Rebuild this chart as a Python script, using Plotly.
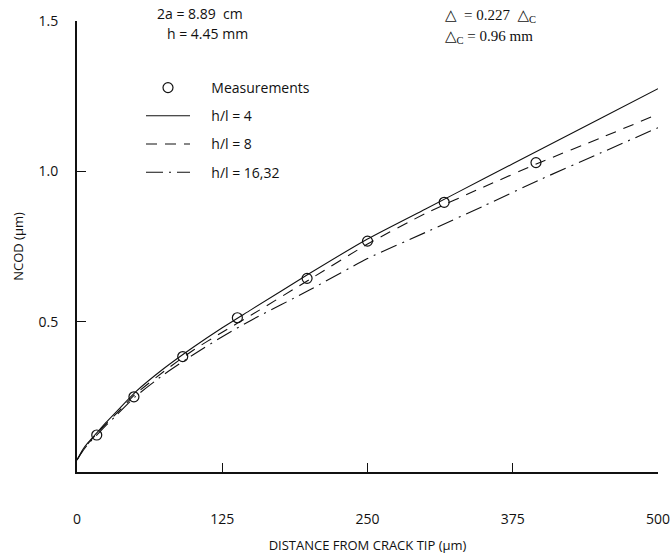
import plotly.graph_objects as go

# ---- data ----
meas_x = [17, 49, 91, 138, 198, 250, 316, 395]
meas_y = [0.123, 0.25, 0.384, 0.513, 0.644, 0.768, 0.897, 1.029]

curve_x = [0, 5, 10, 17, 25, 35, 50, 75, 100, 125, 150, 200, 250, 300, 350, 400, 450, 500]
h4 = [0.04, 0.075, 0.10, 0.13, 0.165, 0.205, 0.265, 0.345, 0.415, 0.48, 0.54, 0.66, 0.775, 0.875, 0.975, 1.075, 1.175, 1.275]
h8 = [0.04, 0.072, 0.097, 0.127, 0.16, 0.198, 0.258, 0.335, 0.405, 0.465, 0.522, 0.64, 0.758, 0.86, 0.948, 1.032, 1.11, 1.19]
h16 = [0.04, 0.07, 0.095, 0.123, 0.155, 0.193, 0.25, 0.325, 0.39, 0.45, 0.505, 0.605, 0.71, 0.797, 0.885, 0.975, 1.06, 1.145]

series_names = ["Measurements", "h/l = 4", "h/l = 8", "h/l = 16,32"]
x_ticks = [0, 125, 250, 375, 500]
y_ticks = [0.5, 1.0, 1.5]
y_tick_labels = ["0.5", "1.0", "1.5"]

# ---- layout geometry (pixels) ----
W, H = 672, 560
L, R, T, B = 77, 14, 21, 88
PW, PH = W - L - R, H - T - B


def px(xp):
    return (xp - L) / PW


def py(yp):
    return (H - B - yp) / PH


SANS = "Open Sans, Lato, DejaVu Sans, sans-serif"
SERIF = "Liberation Serif, DejaVu Serif, serif"
INK = "#111111"
PAD = "\u2002\u2002\u2009"

fig = go.Figure()

fig.add_trace(go.Scatter(
    x=meas_x, y=meas_y, mode="markers", name=PAD + series_names[0],
    legendgroup="m",
    marker=dict(symbol="circle-open", size=10, color=INK, line=dict(width=1.2, color=INK)),
))
fig.add_trace(go.Scatter(
    x=curve_x, y=h4, mode="lines", name=PAD + series_names[1], legendgroup="a",
    line=dict(color=INK, width=1.1, shape="spline", smoothing=0.6),
))
fig.add_trace(go.Scatter(
    x=curve_x, y=h8, mode="lines", name=PAD + series_names[2], legendgroup="b",
    line=dict(color=INK, width=1.1, dash="11px,8px", shape="spline", smoothing=0.6),
))
fig.add_trace(go.Scatter(
    x=curve_x, y=h16, mode="lines", name=PAD + series_names[3], legendgroup="c",
    line=dict(color=INK, width=1.1, dash="17px,6px,2px,6px", shape="spline", smoothing=0.6),
))

fig.update_layout(
    width=W, height=H,
    margin=dict(l=L, r=R, t=T, b=B, autoexpand=False),
    paper_bgcolor="white", plot_bgcolor="white",
    font=dict(family=SANS, size=13, color=INK),
    showlegend=True,
    legend=dict(
        x=px(141), y=py(72), xanchor="left", yanchor="top",
        bgcolor="rgba(0,0,0,0)", borderwidth=0,
        tracegroupgap=7, itemwidth=44,
        font=dict(family=SANS, size=14, color=INK),
    ),
    xaxis=dict(
        range=[0, 500], tickmode="array", tickvals=x_ticks,
        ticktext=[str(v) for v in x_ticks],
        ticks="inside", ticklen=9, tickwidth=1.3, tickcolor=INK,
        showline=True, linewidth=2, linecolor=INK,
        showgrid=False, zeroline=False, automargin=False,
        ticklabelstandoff=33,
        tickfont=dict(family=SANS, size=14, color=INK),
        title=dict(text="DISTANCE FROM CRACK TIP (μm)", standoff=14,
                   font=dict(family=SANS, size=13, color=INK)),
    ),
    yaxis=dict(
        range=[0, 1.5], tickmode="array", tickvals=y_ticks, ticktext=y_tick_labels,
        ticks="inside", ticklen=9, tickwidth=1.3, tickcolor=INK,
        showline=True, linewidth=2, linecolor=INK,
        showgrid=False, zeroline=False, automargin=False,
        ticklabelstandoff=14,
        tickfont=dict(family=SANS, size=14, color=INK),
        title=dict(text="NCOD (μm)", standoff=12,
                   font=dict(family=SANS, size=13, color=INK)),
    ),
)

annotations = [
    dict(text="2a = 8.89  cm", x=px(155), y=py(14), xanchor="left", yanchor="middle",
         font=dict(family=SANS, size=14, color=INK)),
    dict(text="h = 4.45 mm", x=px(165), y=py(33), xanchor="left", yanchor="middle",
         font=dict(family=SANS, size=14, color=INK)),
    dict(text="△  = 0.227  △<sub>C</sub>", x=px(443), y=py(16), xanchor="left", yanchor="middle",
         font=dict(family=SERIF, size=15, color=INK)),
    dict(text="△<sub>C</sub> = 0.96 mm", x=px(443), y=py(37), xanchor="left", yanchor="middle",
         font=dict(family=SERIF, size=15, color=INK)),
]
for a in annotations:
    a.update(xref="paper", yref="paper", showarrow=False)
fig.update_layout(annotations=annotations)

fig.write_html("out.html")
